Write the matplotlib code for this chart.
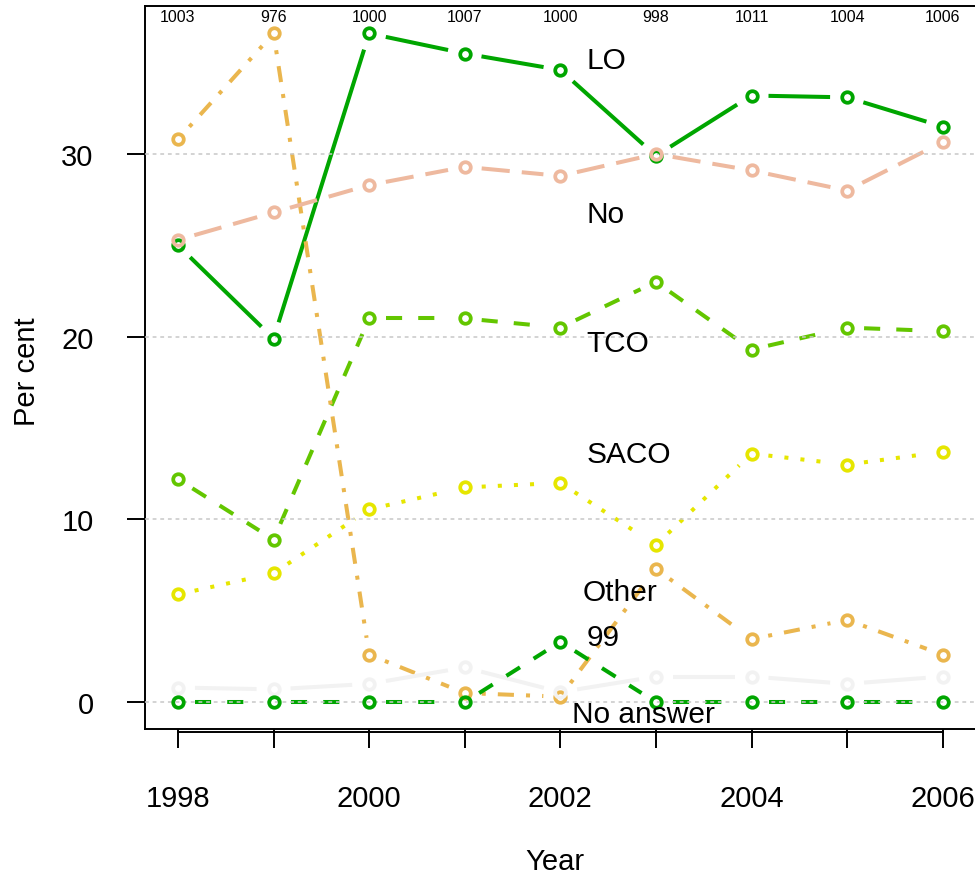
import numpy as np
import matplotlib
matplotlib.use("Agg")
import matplotlib.pyplot as plt
import matplotlib.transforms as mtransforms

plt.rcParams['font.family'] = ['Liberation Sans', 'DejaVu Sans']

years = [1998, 1999, 2000, 2001, 2002, 2003, 2004, 2005, 2006]
n_resp = [1003, 976, 1000, 1007, 1000, 998, 1011, 1004, 1006]

lo = [25.0, 19.9, 36.6, 35.5, 34.6, 29.9, 33.2, 33.1, 31.5]
tco = [12.2, 8.9, 21.0, 21.0, 20.5, 23.0, 19.3, 20.5, 20.3]
saco = [5.9, 7.05, 10.55, 11.75, 12.0, 8.6, 13.6, 13.0, 13.7]
other = [30.8, 36.6, 2.6, 0.5, 0.3, 7.3, 3.45, 4.5, 2.6]
no = [25.3, 26.8, 28.3, 29.3, 28.8, 30.0, 29.1, 28.0, 30.65]
no_answer = [0.8, 0.7, 1.0, 1.9, 0.55, 1.4, 1.4, 1.0, 1.4]
code99 = [0.0, 0.0, 0.0, 0.0, 3.3, 0.0, 0.0, 0.0, 0.0]

series = [lo, tco, saco, other, no, no_answer, code99]
colors = ['#00A600', '#63C600', '#E6E600', '#EAB64E', '#EEB99F', '#F2F2F2', '#00A600']
styles = ['-', (0, (4, 4)), (0, (1, 3)), (0, (1, 3, 4, 3)), (0, (7, 3)), '-', (0, (4, 4))]

# label text and where it sits (year of left edge, baseline value)
labels = ['LO', 'No', 'TCO', 'SACO', 'Other', '99', 'No answer']
label_x = [2002.27, 2002.27, 2002.27, 2002.28, 2002.23, 2002.27, 2002.12]
label_y = [34.7, 26.27, 19.24, 13.14, 5.61, 3.15, -1.07]

fig = plt.figure(figsize=(9.75, 8.79), dpi=100)
# right edge of the box falls just outside the picture, as in the original
ax = fig.add_axes([145 / 975, 149 / 879, 834 / 975, 723 / 879])
ax.set_xlim(1997.655, 2006.38)
ax.set_ylim(-1.47, 38.1)

lw = 2.9
gap = 17  # pixels left open around each point, like R type="b"


def gapped(x, y, color, ls):
    pts = ax.transData.transform(np.column_stack([x, y]))
    inv = ax.transData.inverted()
    for p0, p1 in zip(pts[:-1], pts[1:]):
        d = p1 - p0
        L = np.hypot(*d)
        if L <= 2 * gap:
            continue
        u = d / L
        seg = inv.transform(np.array([p0 + u * gap, p1 - u * gap]))
        ax.plot(seg[:, 0], seg[:, 1], color=color, linestyle=ls, lw=lw,
                solid_capstyle='butt', dash_capstyle='butt', zorder=2)


for vals, c, ls in zip(series, colors, styles):
    gapped(years, vals, c, ls)
    ax.plot(years, vals, linestyle='none', marker='o', ms=7.6, mew=2.7,
            mfc='none', mec=c, zorder=4)

for v in [0, 10, 20, 30]:
    ax.axhline(v, color='#C8C8C8', lw=1.1, linestyle=(0, (2.5, 2.5)), zorder=3)

for t, x, y in zip(labels, label_x, label_y):
    ax.text(x, y, t, fontsize=21.5, ha='left', va='baseline', zorder=5)

trans = mtransforms.blended_transform_factory(ax.transData, ax.transAxes)
for x, n in zip(years, n_resp):
    ax.text(x, 0.985, str(n), fontsize=11.5, ha='center', va='center', transform=trans)

# separate axis line just under the box
trans_off = mtransforms.offset_copy(trans, fig=fig, y=-3, units='dots')
ax.plot([years[0], years[-1]], [0, 0], color='black', lw=1.4,
        transform=trans_off, clip_on=False)

for s in ax.spines.values():
    s.set_linewidth(1.4)
ax.set_xticks(years[::2])
ax.set_xticklabels([str(y) for y in years[::2]])
ax.set_xticks(years, minor=True)
ax.tick_params(axis='x', which='both', length=13.5, width=1.4, pad=26, labelsize=21)
ax.set_yticks([0, 10, 20, 30])
ax.tick_params(axis='y', length=13, width=1.4, pad=24, labelsize=21)

fig.text(27 / 975, 1 - 372 / 879, 'Per cent', rotation=90, fontsize=21,
         ha='center', va='center')
fig.text(555 / 975, 1 - 862 / 879, 'Year', fontsize=21, ha='center', va='center')

fig.savefig('out.png', dpi=100)
